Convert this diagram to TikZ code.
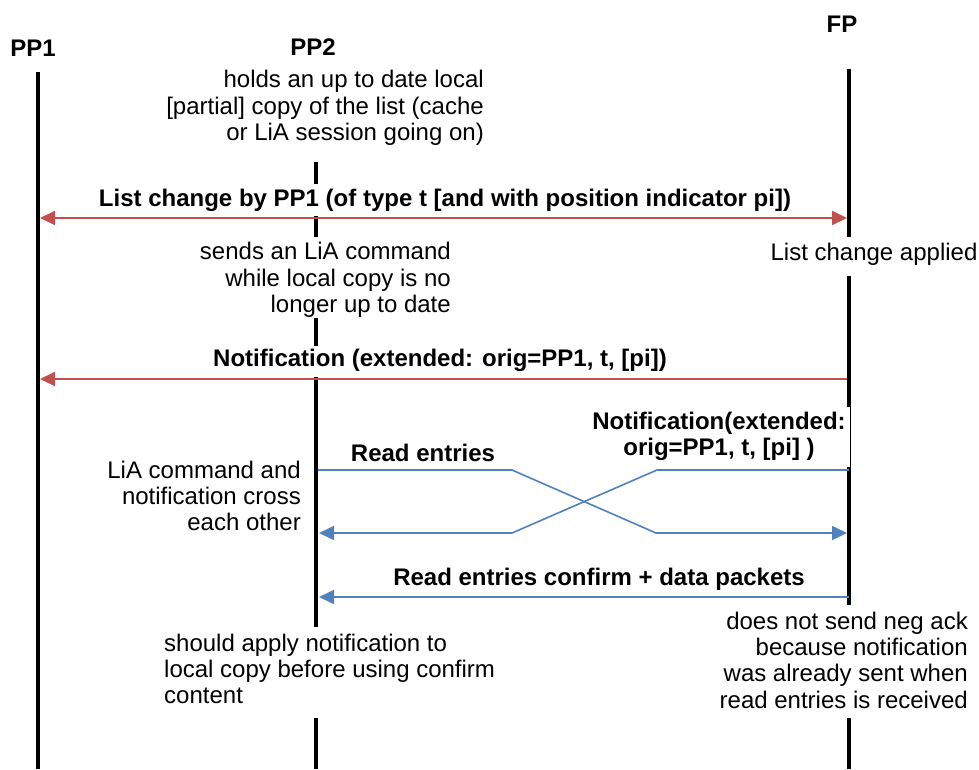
\documentclass[tikz,border=0pt]{standalone}
\usepackage{fontspec}
\setmainfont{Liberation Sans}
\usetikzlibrary{arrows.meta}
\definecolor{msgred}{RGB}{192,80,77}
\definecolor{msgblue}{RGB}{79,129,189}
\begin{document}
\begin{tikzpicture}[x=1pt,y=-1pt,
  txt/.style={inner sep=0pt,font=\fontsize{24}{26.3}\selectfont},
  btxt/.style={txt,font=\fontsize{24}{26.3}\selectfont\bfseries},
  life/.style={line width=3.5pt,black},
  redmsg/.style={line width=2pt,msgred},
  bluemsg/.style={line width=1.6pt,msgblue},
  >={Triangle[length=15pt,width=14pt]}
]
\path[use as bounding box] (0,0) rectangle (979,769);

% headers
\node[btxt] (pp1) at (33,48) {PP1};
\node[btxt] (pp2) at (313,47) {PP2};
\node[btxt] (fp) at (842,24) {FP};

% lifeline coordinates
\coordinate (a0) at (38,72);   \coordinate (a1) at (38,769);
\coordinate (b0) at (316,162); \coordinate (b1) at (316,184);
\coordinate (b2) at (316,216); \coordinate (b3) at (316,237);
\coordinate (b4) at (316,318); \coordinate (b5) at (316,346);
\coordinate (b6) at (316,377); \coordinate (b7) at (316,627);
\coordinate (b8) at (316,718); \coordinate (b9) at (316,769);
\coordinate (c0) at (849,69);  \coordinate (c1) at (849,237);
\coordinate (c2) at (849,276); \coordinate (c3) at (849,407);
\coordinate (c4) at (850.8,407); \coordinate (c5) at (850.8,467);
\coordinate (c6) at (849,467); \coordinate (c7) at (849,605);
\coordinate (c8) at (849,718); \coordinate (c9) at (849,769);

\draw[life] (a0) -- (a1);
\draw[life] (b0) -- (b1);
\draw[life] (b2) -- (b3);
\draw[life] (b4) -- (b5);
\draw[life] (b6) -- (b7);
\draw[life] (b8) -- (b9);
\draw[life] (c0) -- (c1);
\draw[life] (c2) -- (c3);
\draw[line width=1pt] (c4) -- (c5);
\draw[life] (c6) -- (c7);
\draw[life] (c8) -- (c9);

% notes
\node[txt,anchor=east,align=right] (holds) at (484,108)
  {holds an up to date local\\{[partial]} copy of the list (cache\\or LiA session going on)};
\node[txt,anchor=east,align=right] (sends) at (451,280)
  {sends an LiA command\\while local copy is no\\longer up to date};
\node[txt] (applied) at (874,254) {List change applied};
\node[txt,anchor=east,align=right] (cross) at (301,496)
  {LiA command and\\notification cross\\each other};
\node[txt,anchor=west,align=left] (apply) at (164,669)
  {should apply notification to\\local copy before using confirm\\content};
\node[txt,anchor=east,align=right] (neg) at (968,660)
  {does not send neg ack\\because notification\\was already sent when\\read entries is received};

% message 1
\coordinate (m1a) at (40,218); \coordinate (m1b) at (847,218);
\draw[redmsg,<->] (m1a) -- (m1b);
\node[btxt] (l1) at (445,200) {List change by PP1 (of type t [and with position indicator pi])};

% message 2
\coordinate (m2a) at (847,379); \coordinate (m2b) at (40,379);
\draw[redmsg,->] (m2a) -- (m2b);
\node[btxt] (l2) at (440,360) {Notification (extended: orig=PP1, t, [pi])};

% crossing messages
\coordinate (r0) at (318,470); \coordinate (r1) at (512,470);
\coordinate (r2) at (656,533); \coordinate (r3) at (847,533);
\draw[bluemsg,->] (r0) -- (r1) -- (r2) -- (r3);
\node[btxt] (l3) at (423,453) {Read entries};

\coordinate (n0) at (849,470); \coordinate (n1) at (657,470);
\coordinate (n2) at (512,533); \coordinate (n3) at (319,533);
\draw[bluemsg,->] (n0) -- (n1) -- (n2) -- (n3);
\node[btxt,align=center] (l4) at (719,436) {Notification(extended:\\orig=PP1, t, [pi] )};

% confirm
\coordinate (k0) at (849,597); \coordinate (k1) at (319,597);
\draw[bluemsg,->] (k0) -- (k1);
\node[btxt] (l5) at (599,579) {Read entries confirm + data packets};
\end{tikzpicture}
\end{document}
